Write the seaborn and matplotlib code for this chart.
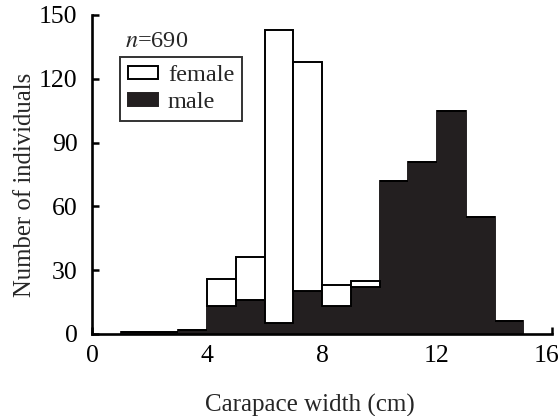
import pandas as pd
import matplotlib
matplotlib.use("Agg")
import matplotlib.pyplot as plt
import matplotlib.transforms as mtransforms
from matplotlib.patches import Patch
import seaborn as sns

# Carapace-width classes (cm), lower bin edges
width_class = [1, 2, 3, 4, 5, 6, 7, 8, 9, 10, 11, 12, 13, 14]
female_counts = [0, 0, 0, 13, 20, 138, 108, 10, 3, 0, 0, 0, 0, 0]
male_counts = [1, 1, 2, 13, 16, 5, 20, 13, 22, 72, 81, 105, 55, 6]
x_ticks = [0, 4, 8, 12, 16]
y_ticks = [0, 30, 60, 90, 120, 150]

sns.set_theme(style="ticks")
plt.rcParams["font.family"] = ["Liberation Serif", "DejaVu Serif"]
plt.rcParams["mathtext.fontset"] = "stix"

rows = []
for w, f, m in zip(width_class, female_counts, male_counts):
    rows.append({"width": w + 0.5, "sex": "female", "count": f})
    rows.append({"width": w + 0.5, "sex": "male", "count": m})
df = pd.DataFrame(rows)

fig = plt.figure(figsize=(5.6, 4.16), dpi=100)
ax = fig.add_axes([92 / 560, 82 / 416, 460 / 560, 319 / 416])

male_color = "#231f20"
sns.histplot(
    data=df, x="width", weights="count", hue="sex",
    hue_order=["female", "male"], multiple="stack",
    binwidth=1, binrange=(1, 15),
    palette={"female": "white", "male": male_color},
    edgecolor="black", linewidth=1.4, alpha=1,
    legend=False, ax=ax,
)
# male bars share the fill colour on their edges so adjacent bars merge
for p in ax.patches:
    if p.get_facecolor()[0] < 0.5:
        p.set_edgecolor(male_color)

ax.set_xlim(0, 16)
ax.set_ylim(0, 150)
ax.set_xticks(x_ticks)
ax.set_yticks(y_ticks)
ax.tick_params(direction="in", length=5, width=1.8, labelsize=18.5, colors="black")
ax.tick_params(axis="x", pad=8)
ax.tick_params(axis="y", pad=10.5)
for s in ["top", "right"]:
    ax.spines[s].set_visible(False)
for s in ["left", "bottom"]:
    ax.spines[s].set_linewidth(1.9)
    ax.spines[s].set_color("black")

# keep the last x tick label inside the figure
fig.canvas.draw()
last = ax.get_xticklabels()[-1]
last.set_transform(last.get_transform() + mtransforms.ScaledTranslation(-5 / 100, 0, fig.dpi_scale_trans))

ax.set_xlabel("Carapace width (cm)", fontsize=18, labelpad=19)
ax.set_ylabel("Number of individuals", fontsize=17.8, labelpad=2)
ax.xaxis.label.set_x(0.474)
ax.yaxis.label.set_y(0.467)

ax.text(0.072, 0.917, r"$n$=690", transform=ax.transAxes, fontsize=17.5, va="center", ha="left")

handles = [
    Patch(facecolor="white", edgecolor="black", linewidth=1.4, label="female"),
    Patch(facecolor=male_color, edgecolor=male_color, linewidth=1.4, label="male"),
]
leg = ax.legend(
    handles=handles, loc="upper left", bbox_to_anchor=(0.061, 0.868),
    fontsize=17.5, frameon=True, fancybox=False, borderpad=0.33,
    handlelength=1.23, handleheight=0.42, handletextpad=0.41, labelspacing=0.25,
    borderaxespad=0,
)
leg.get_frame().set_edgecolor("black")
leg.get_frame().set_linewidth(1.4)

fig.savefig("out.png", dpi=100)
